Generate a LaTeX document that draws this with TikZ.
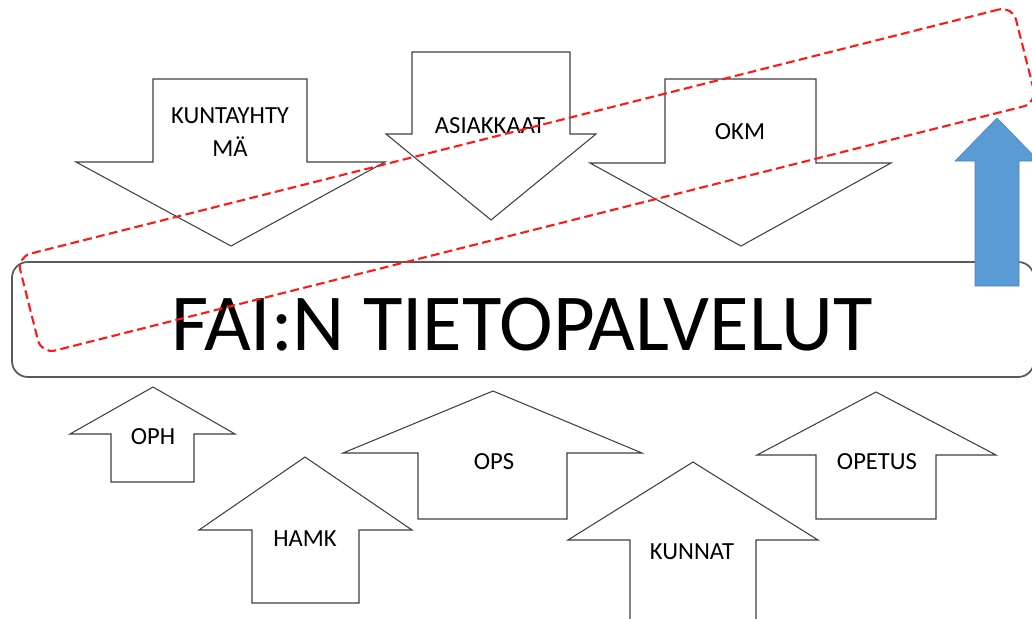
\documentclass[tikz,border=0pt]{standalone}
\usepackage{fontspec}
\setmainfont{Carlito}
\usepackage{tikz}
\definecolor{arrblue}{HTML}{5B9BD5}
\tikzstyle{shp}=[draw=black!75, line width=0.6pt, fill=white, line join=miter]
\tikzstyle{lbl}=[font=\fontsize{14}{18.7}\selectfont, align=center, inner sep=0pt]
\tikzstyle{mainbox}=[draw=black!65, line width=1pt, rounded corners=9pt]
\tikzstyle{bluearr}=[fill=arrblue, draw=arrblue!85!black, line width=0.3pt]
\tikzstyle{focus}=[draw=red!90!white, line width=1.2pt, dash pattern=on 5pt off 2.5pt, rounded corners=8pt]

\begin{document}
\begin{tikzpicture}[x=0.02cm, y=-0.02cm]
            \useasboundingbox (0,0) rectangle (1032,619);
            \clip (0,0) rectangle (1032,619);
            % arrows coming down
            \draw[shp] (153,79) -- (307,79) -- (307,162) -- (385,162) -- (231,246)
                -- (76,162) -- (153,162) -- cycle;
            \draw[shp] (412,52) -- (570,52) -- (570,134) -- (596,134) -- (491,220)
                -- (386,134) -- (412,134) -- cycle;
            \draw[shp] (665,79) -- (816,79) -- (816,163) -- (891,163) -- (741,246)
                -- (590,163) -- (665,163) -- cycle;
            \node[lbl] (kuntayhtyma) at (230,132) {KUNTAYHTY\\MÄ};
            \node[lbl] (asiakkaat) at (490,126) {ASIAKKAAT};
            \node[lbl] (okm) at (740,132) {OKM};
            % arrows going up
            \draw[shp] (153,387) -- (235,434) -- (194,434) -- (194,482) -- (111,482)
                -- (111,434) -- (70,434) -- cycle;
            \draw[shp] (305,457) -- (412,530) -- (359,530) -- (359,603) -- (252,603)
                -- (252,530) -- (199,530) -- cycle;
            \draw[shp] (493,391) -- (642,453) -- (567,453) -- (567,519) -- (418,519)
                -- (418,453) -- (343,453) -- cycle;
            \draw[shp] (693,462) -- (818,540) -- (756,540) -- (756,640) -- (630,640)
                -- (630,540) -- (568,540) -- cycle;
            \draw[shp] (876,392) -- (996,455) -- (936,455) -- (936,519) -- (816,519)
                -- (816,455) -- (757,455) -- cycle;
            \node[lbl] (oph) at (153,437) {OPH};
            \node[lbl] (hamk) at (305,539) {HAMK};
            \node[lbl] (ops) at (494,462) {OPS};
            \node[lbl] (kunnat) at (692,552) {KUNNAT};
            \node[lbl] (opetus) at (877,462) {OPETUS};
            % the box in the middle
            \draw[mainbox] (12,262) rectangle (1034,377);
            \node[inner sep=0pt, font=\fontsize{46}{50}\selectfont] (title) at (522,325)
                {FAI:N TIETOPALVELUT};
            \draw[bluearr] (997,118) -- (1039,161) -- (1019,161) -- (1019,286)
                -- (975,286) -- (975,161) -- (955,161) -- cycle;
            \node[focus, rotate=14.15, minimum width=20.54cm, minimum height=2cm]
                (frame) at (527,180) {};
        \end{tikzpicture}
\end{document}
